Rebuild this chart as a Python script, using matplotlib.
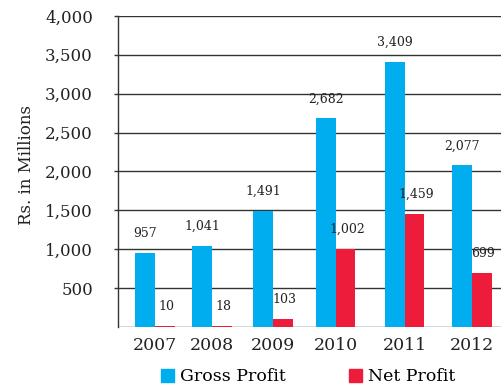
import matplotlib
matplotlib.use("Agg")
import matplotlib.pyplot as plt
from matplotlib.patches import Patch

years = ['2007', '2008', '2009', '2010', '2011', '2012']
gross_profit = [957, 1041, 1491, 2682, 3409, 2077]
net_profit = [10, 18, 103, 1002, 1459, 699]
gross_labels = ['957', '1,041', '1,491', '2,682', '3,409', '2,077']
net_labels = ['10', '18', '103', '1,002', '1,459', '699']
yticks = [500, 1000, 1500, 2000, 2500, 3000, 3500, 4000]
ytick_labels = ['500', '1,000', '1,500', '2,000', '2,500', '3,000', '3,500', '4,000']

# group centres (the original spacing is a little uneven)
xpos = [0, 0.9, 1.86, 2.85, 3.94, 5.0]
w = 0.31
cyan = '#00aeef'
red = '#ed1c3a'

plt.rcParams['font.family'] = ['DejaVu Serif']

fig = plt.figure(figsize=(5.01, 3.87), dpi=100)
ax = fig.add_axes([0.2355, 0.155, 0.7645, 0.804])

ax.set_axisbelow(True)
for y in [0] + yticks:
    ax.axhline(y, color='#333333', lw=1.0, zorder=0)

gx = [x - w / 2 for x in xpos]
nx = [x + w / 2 for x in xpos]
ax.bar(gx, gross_profit, w, color=cyan, zorder=2)
ax.bar(nx, net_profit, w, color=red, zorder=2)

for x, v, s in zip(gx, gross_profit, gross_labels):
    ax.annotate(s, (x, v), xytext=(0, 14), textcoords='offset points',
                ha='center', va='center', fontsize=9, color='#222222')
for x, v, s in zip(nx, net_profit, net_labels):
    ax.annotate(s, (x, v), xytext=(1, 14), textcoords='offset points',
                ha='center', va='center', fontsize=9, color='#222222')

ax.set_xlim(-0.584, 5.457)
ax.set_ylim(0, 4000)
ax.set_yticks(yticks)
ax.set_yticklabels(ytick_labels, fontsize=12, color='#222222')
ax.set_xticks(xpos)
ax.set_xticklabels(years, fontsize=12.5, color='#222222')
ax.tick_params(axis='y', length=3, width=1, color='#333333', pad=15)
ax.tick_params(axis='x', length=0, pad=7)

for side in ['top', 'right', 'bottom']:
    ax.spines[side].set_visible(False)
ax.spines['left'].set_color('#333333')
ax.spines['left'].set_linewidth(1.0)

ax.set_ylabel('Rs. in Millions', fontsize=12, color='#222222', labelpad=7)
ax.yaxis.label.set_y(0.52)

handles = [Patch(color=cyan, label='Gross Profit'), Patch(color=red, label='Net Profit')]
fig.legend(handles=handles, loc='center', bbox_to_anchor=(0.615, 0.026), ncol=2,
           frameon=False, fontsize=12.5, handlelength=0.75, handleheight=0.75,
           handletextpad=0.35, columnspacing=3.6, borderpad=0)

fig.savefig('out.png', dpi=100)
